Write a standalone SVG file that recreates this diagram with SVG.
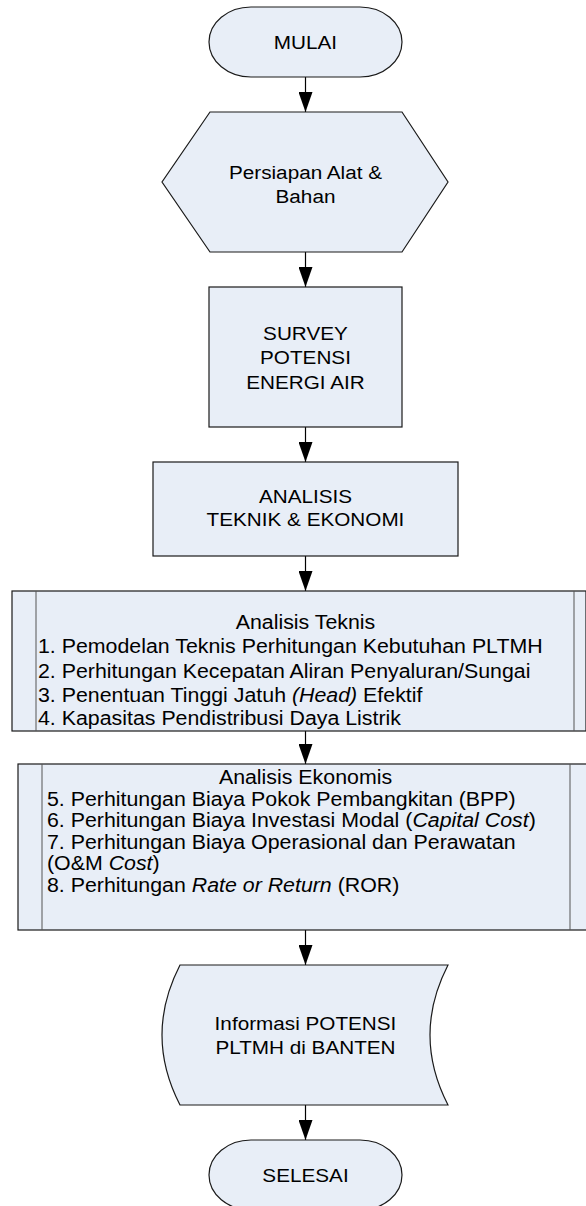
<svg xmlns="http://www.w3.org/2000/svg" width="586" height="1206" viewBox="0 0 586 1206">
<style>
.shape{fill:#E8EEF7;stroke:#1a1a1a;stroke-width:1.2}
.inner{fill:none;stroke:#555;stroke-width:1}
.t{font-family:"Liberation Sans",Arial,sans-serif;font-size:19px;fill:#000}
.c{text-anchor:middle}
.l{font-size:19.5px}
.conn{stroke:#000;stroke-width:1.2;fill:none;marker-end:url(#ah)}
</style>
<defs>
<marker id="ah" markerUnits="userSpaceOnUse" markerWidth="20" markerHeight="14" refX="20" refY="7" orient="auto">
<path d="M0,0 L20,7 L0,14 Z" fill="#000"/>
</marker>
</defs>
<rect width="586" height="1206" fill="#fff"/>
<g id="connectors">
<line class="conn" x1="305.5" y1="77" x2="305.5" y2="112"/>
<line class="conn" x1="305.5" y1="252" x2="305.5" y2="287"/>
<line class="conn" x1="305.5" y1="427" x2="305.5" y2="462"/>
<line class="conn" x1="305.5" y1="556" x2="305.5" y2="591"/>
<line class="conn" x1="305.5" y1="731" x2="305.5" y2="764"/>
<line class="conn" x1="305.5" y1="930" x2="305.5" y2="965"/>
<line class="conn" x1="305.5" y1="1105" x2="305.5" y2="1140"/>
</g>
<g id="mulai">
<rect class="shape" x="209" y="7" width="193" height="70" rx="42" ry="35"/>
<g transform="matrix(1.09 0 0 1 -27.5 0)"><text class="t c" x="305.5" y="49">MULAI</text></g>
</g>
<g id="persiapan">
<polygon class="shape" points="210,112 402,112 448,182 402,252 210,252 162,182"/>
<g transform="matrix(1.09 0 0 1 -27.5 0)">
<text class="t c" x="305.5" y="179">Persiapan Alat &amp;</text>
<text class="t c" x="305.5" y="203">Bahan</text>
</g>
</g>
<g id="survey">
<rect class="shape" x="209" y="287" width="193" height="140"/>
<g transform="matrix(1.09 0 0 1 -27.5 0)">
<text class="t c" x="305.5" y="340">SURVEY</text>
<text class="t c" x="305.5" y="364">POTENSI</text>
<text class="t c" x="305.5" y="389">ENERGI AIR</text>
</g>
</g>
<g id="analisis">
<rect class="shape" x="153" y="462" width="305" height="94"/>
<g transform="matrix(1.09 0 0 1 -27.5 0)">
<text class="t c" x="305.5" y="503">ANALISIS</text>
<text class="t c" x="305.5" y="526">TEKNIK &amp; EKONOMI</text>
</g>
</g>
<g id="teknis">
<rect class="shape" x="12" y="591" width="574" height="140"/>
<line class="inner" x1="36" y1="591" x2="36" y2="731"/>
<line class="inner" x1="574" y1="591" x2="574" y2="731"/>
<g transform="matrix(1.095 0 0 1 -29.02 0)">
<text class="t l c" x="305.5" y="629">Analisis Teknis</text>
</g>
<g transform="matrix(1.095 0 0 1 -3.61 0)">
<text class="t l" x="38" y="653">1. Pemodelan Teknis Perhitungan Kebutuhan PLTMH</text>
<text class="t l" x="38" y="678">2. Perhitungan Kecepatan Aliran Penyaluran/Sungai</text>
<text class="t l" x="38" y="702">3. Penentuan Tinggi Jatuh <tspan font-style="italic">(Head)</tspan> Efektif</text>
<text class="t l" x="38" y="725">4. Kapasitas Pendistribusi Daya Listrik</text>
</g>
</g>
<g id="ekonomis">
<rect class="shape" x="18" y="764" width="576" height="166"/>
<line class="inner" x1="42" y1="764" x2="42" y2="930"/>
<line class="inner" x1="570" y1="764" x2="570" y2="930"/>
<g transform="matrix(1.095 0 0 1 -29.02 0)">
<text class="t l c" x="305.5" y="784">Analisis Ekonomis</text>
</g>
<g transform="matrix(1.095 0 0 1 -4.47 0)">
<text class="t l" x="47" y="805.6">5. Perhitungan Biaya Pokok Pembangkitan (BPP)</text>
<text class="t l" x="47" y="827.2">6. Perhitungan Biaya Investasi Modal (<tspan font-style="italic">Capital Cost</tspan>)</text>
<text class="t l" x="47" y="848.8">7. Perhitungan Biaya Operasional dan Perawatan</text>
<text class="t l" x="47" y="870.4">(O&amp;M <tspan font-style="italic">Cost</tspan>)</text>
<text class="t l" x="47" y="892">8. Perhitungan <tspan font-style="italic">Rate or Return</tspan> (ROR)</text>
</g>
</g>
<g id="informasi">
<path class="shape" d="M180,965 L448,965 Q412,1035 448,1105 L180,1105 Q144,1035 180,965 Z"/>
<g transform="matrix(1.09 0 0 1 -27.5 0)">
<text class="t c" x="305.5" y="1030">Informasi POTENSI</text>
<text class="t c" x="305.5" y="1054">PLTMH di BANTEN</text>
</g>
</g>
<g id="selesai">
<rect class="shape" x="209" y="1140" width="193" height="70" rx="42" ry="35"/>
<g transform="matrix(1.09 0 0 1 -27.5 0)"><text class="t c" x="305.5" y="1182">SELESAI</text></g>
</g>
</svg>
